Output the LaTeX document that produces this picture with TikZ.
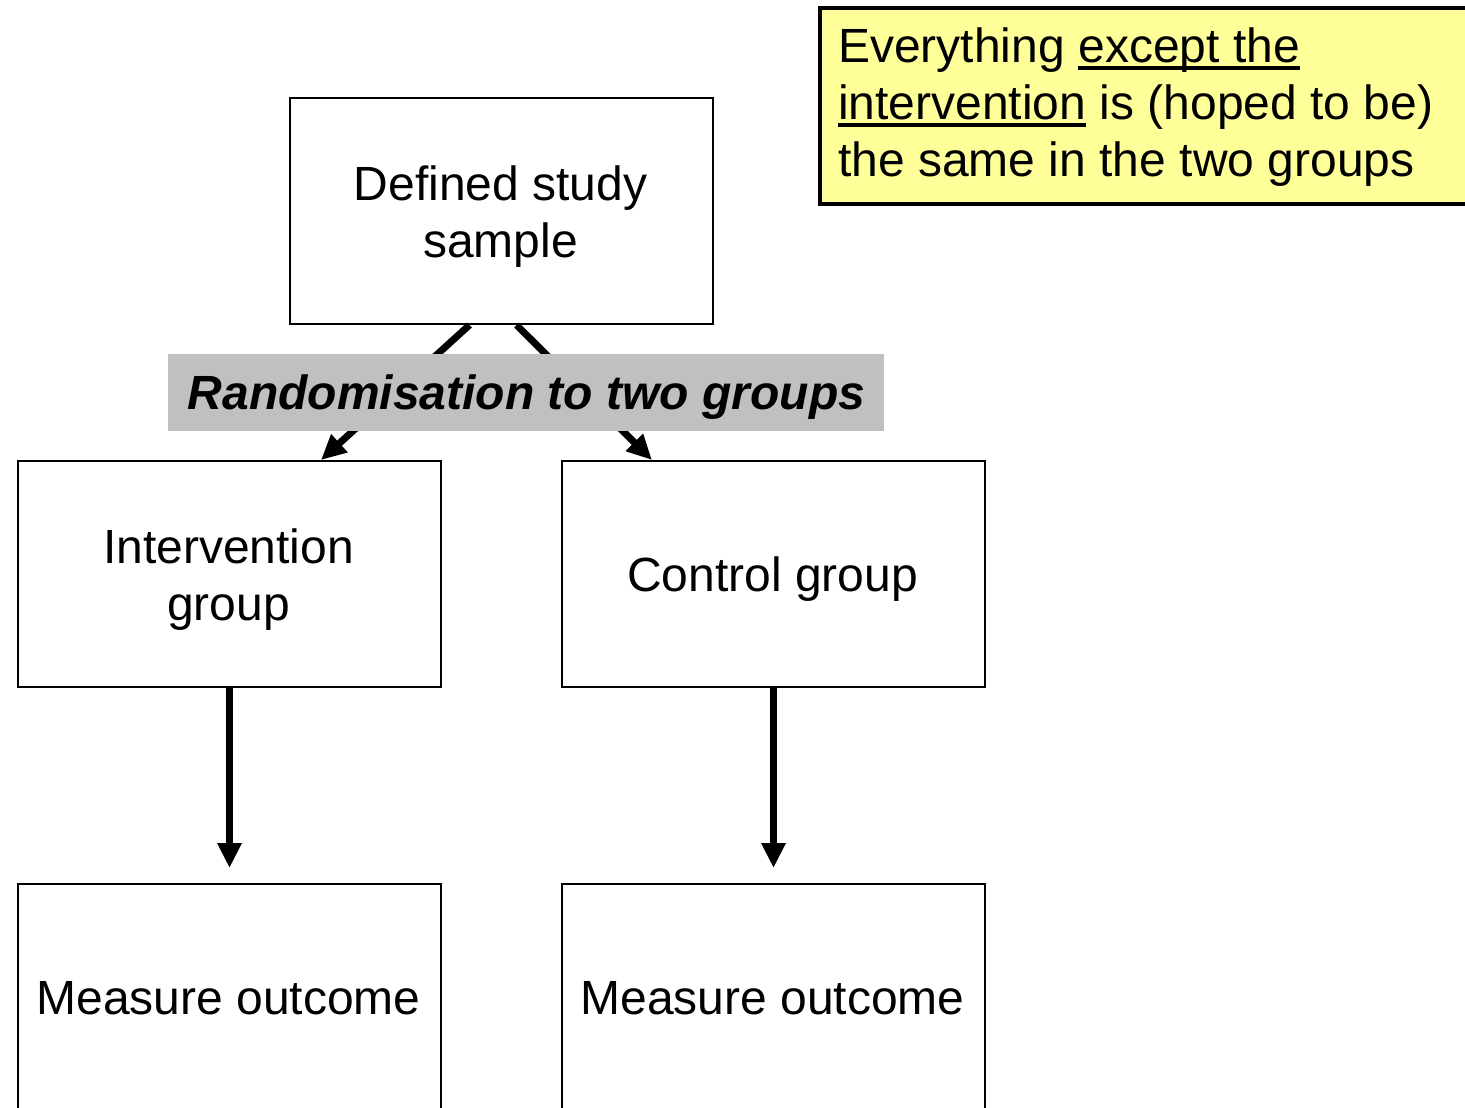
\documentclass[tikz,border=0pt]{standalone}
\usepackage{fontspec}
\setmainfont{Liberation Sans}
\usetikzlibrary{arrows.meta,calc}
\definecolor{slidegray}{HTML}{C0C0C0}
\definecolor{noteyellow}{HTML}{FFFF99}
\newsavebox\ulbox
\newcommand\myul[1]{\sbox\ulbox{#1}\rlap{\rule[-8pt]{\wd\ulbox}{4pt}}\usebox\ulbox}
\begin{document}
\begin{tikzpicture}[x=1pt,y=-1pt,
  box/.style={draw, line width=2pt, minimum width=423pt, minimum height=226pt, inner sep=0pt, anchor=north west},
  lbl/.style={font=\fontsize{48}{57}\selectfont, align=center, anchor=base, inner sep=0pt},
  arr/.style={line width=7pt, -{Triangle[length=25pt,width=23pt]}}]
\useasboundingbox (0,0) rectangle (1465,1108);
\clip (0,0) rectangle (1465,1108);
\fill[white] (0,0) rectangle (1465,1108);

% boxes
\node[box] (top) at (289,97) {};
\node[box] (int) at (17,460) {};
\node[box] (ctl) at (561,460) {};
\node[box] (mo1) at (17,883) {};
\node[box] (mo2) at (561,883) {};

% labels (base anchor = baseline of the last line)
\node[lbl] (ttop) at (500.5,257.5) {Defined study\\sample};
\node[lbl] (tint) at (228.5,620) {Intervention\\group};
\node[lbl] (tctl) at (772.5,591) {Control group};
\node[lbl] (tmo1) at (228.5,1014) {Measure outcome};
\node[lbl] (tmo2) at (772.5,1014) {Measure outcome};

% connectors
\coordinate (sL) at ($(top.south)+(-32,0)$);
\coordinate (sR) at ($(top.south)+(15,0)$);
\coordinate (eL) at ($(int.north)+(91.5,0)$);
\coordinate (eR) at ($(ctl.north)+(-121.5,0)$);
\draw[arr] (sL) -- (eL);
\draw[arr] (sR) -- (eR);
\draw[arr, shorten >=15pt] (int.south) -- (mo1.north);
\draw[arr, shorten >=15pt] (ctl.south) -- (mo2.north);

% randomisation band
\node[fill=slidegray, minimum width=716pt, minimum height=77pt, inner sep=0pt, anchor=north west] (rand) at (168,354) {};
\node[lbl, font=\fontsize{48}{57}\selectfont\bfseries\itshape] (trand) at (526.5,409) {Randomisation to two groups};

% note
\node[draw, line width=4pt, fill=noteyellow, minimum width=680pt, minimum height=195.5pt, inner sep=0pt, anchor=north west] (note) at (817.5,6.5) {};
\node[lbl, align=left, anchor=base west] (tnote) at (838,176) {Everything \myul{except the}\\\myul{intervention} is (hoped to be)\\the same in the two groups};
\end{tikzpicture}
\end{document}
